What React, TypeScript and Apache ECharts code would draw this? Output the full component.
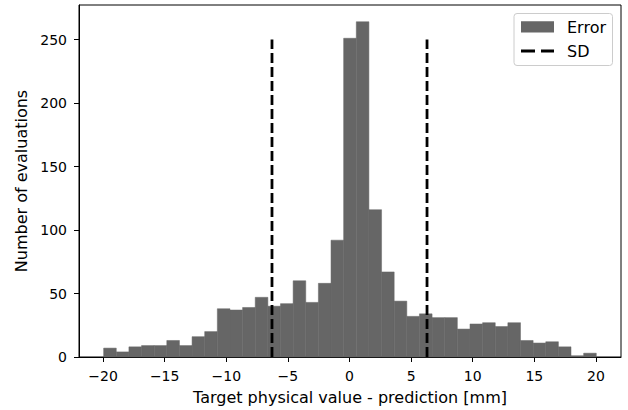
import React, { useEffect, useRef } from "react";
import * as echarts from "echarts";

// Histogram bins (left edge of first bin, bin width) and counts
const binStart = -19.95;
const binWidth = 1.025;
const counts = [
  7, 4, 8, 9, 9, 13, 9, 16, 20, 38,
  37, 39, 47, 40, 42, 60, 43, 58, 92, 251,
  264, 116, 67, 44, 32, 34, 31, 31, 22, 26,
  27, 24, 27, 13, 11, 12, 8, 1, 3,
];
// Standard deviation markers
const sdValues = [-6.29, 6.29];
const sdHeight = 250;
// Tick labels
const xTicks = [-20, -15, -10, -5, 0, 5, 10, 15, 20];
const yTicks = [0, 50, 100, 150, 200, 250];

const FONT = "DejaVu Sans";

export default function App() {
  const ref = useRef<HTMLDivElement>(null);
  useEffect(() => {
    if (!ref.current) return;
    const chart = echarts.init(ref.current, undefined, { renderer: "svg" });
    const barData = counts.map((c, i) => [
      binStart + i * binWidth,
      binStart + (i + 1) * binWidth,
      c,
    ]);
    const option: any = {
      animation: false,
      grid: {
        left: 79,
        top: 5,
        right: 7,
        bottom: 53,
        show: true,
        borderColor: "#000",
        borderWidth: 1,
        backgroundColor: "transparent",
      },
      xAxis: {
        type: "value",
        min: -21.95,
        max: 22.03,
        name: "Target physical value - prediction [mm]",
        nameLocation: "middle",
        nameGap: 40,
        nameTextStyle: {
          fontFamily: FONT,
          fontSize: 16,
          color: "#000",
          verticalAlign: "middle",
          align: "center",
        },
        axisLine: { show: true, onZero: false, lineStyle: { color: "#000", width: 1 } },
        axisTick: {
          show: true,
          length: 5,
          customValues: xTicks,
          lineStyle: { color: "#000", width: 1 },
        },
        axisLabel: {
          customValues: xTicks,
          margin: 12,
          fontFamily: FONT,
          fontSize: 14,
          color: "#000",
          formatter: (v: number) => String(v).replace("-", "\u2212"),
        },
        splitLine: { show: false },
      },
      yAxis: {
        type: "value",
        min: 0,
        max: 277.2,
        name: "Number of evaluations",
        nameLocation: "middle",
        nameGap: 58,
        nameRotate: 90,
        nameTextStyle: {
          fontFamily: FONT,
          fontSize: 16,
          color: "#000",
          verticalAlign: "middle",
          align: "center",
        },
        axisLine: { show: true, onZero: false, lineStyle: { color: "#000", width: 1 } },
        axisTick: {
          show: true,
          length: 5,
          customValues: yTicks,
          lineStyle: { color: "#000", width: 1 },
        },
        axisLabel: {
          customValues: yTicks,
          margin: 12,
          fontFamily: FONT,
          fontSize: 14,
          color: "#000",
        },
        splitLine: { show: false },
      },
      series: [
        {
          type: "custom",
          name: "Error",
          data: barData,
          encode: { x: [0, 1], y: 2 },
          renderItem: (params: any, api: any) => {
            const p0 = api.coord([api.value(0), api.value(2)]);
            const p1 = api.coord([api.value(1), 0]);
            return {
              type: "rect",
              shape: { x: p0[0], y: p0[1], width: p1[0] - p0[0], height: p1[1] - p0[1] },
              style: { fill: "#666666", stroke: "#666666", lineWidth: 0.5 },
            };
          },
        },
        ...sdValues.map((v) => ({
          type: "line",
          name: "SD",
          data: [
            [v, 0],
            [v, sdHeight],
          ],
          symbol: "none",
          lineStyle: { color: "#000", width: 2.8, type: [10, 4] },
        })),
      ],
      graphic: [
        {
          type: "group",
          children: [
            {
              type: "rect",
              shape: { x: 514, y: 13.5, width: 98.5, height: 52, r: 3 },
              style: { fill: "rgba(255,255,255,0.8)", stroke: "#cccccc", lineWidth: 1 },
            },
            {
              type: "rect",
              shape: { x: 521, y: 21.3, width: 33, height: 11.3 },
              style: { fill: "#666666" },
            },
            {
              type: "text",
              x: 567,
              y: 27,
              style: {
                text: "Error",
                fontFamily: FONT,
                fontSize: 16,
                fill: "#000",
                verticalAlign: "middle",
              },
            },
            {
              type: "line",
              shape: { x1: 521, y1: 51, x2: 554, y2: 51 },
              style: { stroke: "#000", lineWidth: 2.8, lineDash: [14, 6] },
            },
            {
              type: "text",
              x: 567,
              y: 51,
              style: {
                text: "SD",
                fontFamily: FONT,
                fontSize: 16,
                fill: "#000",
                verticalAlign: "middle",
              },
            },
          ],
        },
      ],
    };
    chart.setOption(option);
    return () => chart.dispose();
  }, []);
  return (
    <div
      ref={ref}
      style={{ position: "fixed", left: 0, top: 0, width: 628, height: 410, background: "#fff" }}
    />
  );
}
